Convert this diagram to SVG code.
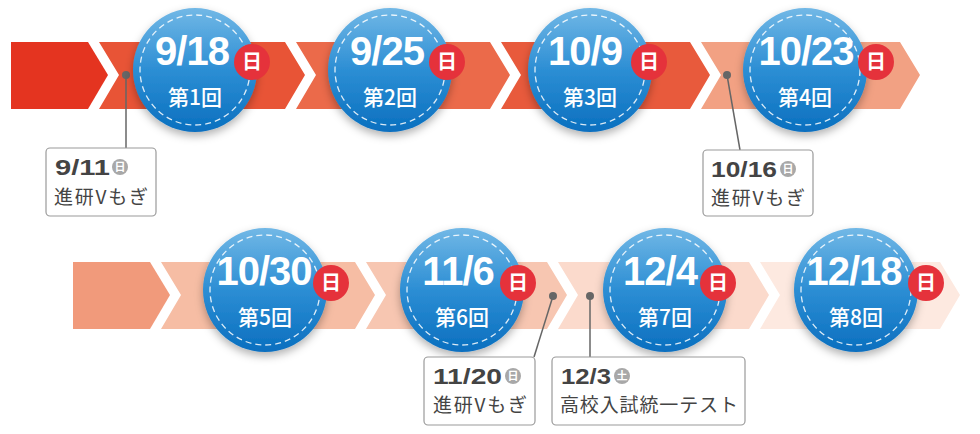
<svg xmlns="http://www.w3.org/2000/svg" width="980" height="434" viewBox="0 0 980 434">
<defs>
<linearGradient id="bg" x1="0" y1="0" x2="0" y2="1"><stop offset="0" stop-color="#72b8e6"/><stop offset="0.5" stop-color="#2c8ed4"/><stop offset="1" stop-color="#0a6fbf"/></linearGradient>
<filter id="sh" x="-20%" y="-20%" width="140%" height="150%"><feDropShadow dx="0" dy="4" stdDeviation="4" flood-color="#000" flood-opacity="0.3"/></filter>
<style>
.ring{fill:url(#bg);filter:url(#sh)}
.dash{fill:none;stroke:#fff;stroke-width:1.3;stroke-dasharray:6 4;opacity:.85}
.dt{font-family:"Liberation Sans",Arial,sans-serif;font-weight:bold;font-size:40px;fill:#fff;text-anchor:middle;letter-spacing:-1px}
.kai{font-family:"Noto Sans CJK JP",sans-serif;font-size:21px;font-weight:500;fill:#fff;text-anchor:middle}
.badge{fill:#e5323b}
.bt{font-family:"Noto Sans CJK JP",sans-serif;font-weight:bold;font-size:20px;fill:#fff;text-anchor:middle}
.box{fill:#fff;stroke:#9a9a9a;stroke-width:1.2}
.cd{font-family:"Liberation Sans",Arial,sans-serif;font-weight:bold;font-size:22px;fill:#444}
.ct{font-family:"Noto Sans CJK JP",sans-serif;font-size:19px;fill:#444}
.gb{fill:#a8a8a8}
.gt{font-family:"Noto Sans CJK JP",sans-serif;font-weight:bold;font-size:11px;fill:#fff;text-anchor:middle}
.ln{stroke:#666;stroke-width:1.5;fill:none}
.dot{fill:#666}
</style>
</defs>
<g id="band1">
<polygon points="11,42 88,42 108,75 88,109 11,109" fill="#e43420"/>
<polygon points="99,42 285,42 305,75 285,109 99,109 119,75" fill="#e85436"/>
<polygon points="296,42 490,42 510,75 490,109 296,109 316,75" fill="#eb6a4a"/>
<polygon points="501,42 690,42 710,75 690,109 501,109 521,75" fill="#e85a3c"/>
<polygon points="701,42 900,42 920,75 900,109 701,109 721,75" fill="#f2a183"/>
</g>
<g id="band2">
<polygon points="73,262 150,262 170,295 150,329 73,329" fill="#f19a7b"/>
<polygon points="161,262 355,262 375,295 355,329 161,329 181,295" fill="#f6bda4"/>
<polygon points="366,262 547,262 567,295 547,329 366,329 386,295" fill="#f7c6b1"/>
<polygon points="558,262 749,262 769,295 749,329 558,329 578,295" fill="#fbdacc"/>
<polygon points="760,262 940,262 960,295 940,329 760,329 780,295" fill="#fde9e0"/>
</g>
<g id="connectors">
<circle class="dot" cx="126" cy="75" r="4"/><line class="ln" x1="126" y1="75" x2="126" y2="148"/>
<circle class="dot" cx="727" cy="75" r="4"/><line class="ln" x1="727" y1="75" x2="740" y2="150"/>
<circle class="dot" cx="553" cy="296" r="4"/><line class="ln" x1="553" y1="296" x2="534" y2="357"/>
<circle class="dot" cx="590" cy="296" r="4"/><line class="ln" x1="590" y1="296" x2="590" y2="357"/>
</g>
<g id="n1"><circle class="ring" cx="195" cy="70" r="62"/><circle class="dash" cx="195" cy="70" r="55"/><text class="dt" x="192" y="65">9/18</text><text class="kai" x="195" y="105">第1回</text><circle class="badge" cx="252" cy="62" r="18"/><text class="bt" x="252" y="69">日</text></g>
<g id="n2"><circle class="ring" cx="390" cy="70" r="62"/><circle class="dash" cx="390" cy="70" r="55"/><text class="dt" x="387" y="65">9/25</text><text class="kai" x="390" y="105">第2回</text><circle class="badge" cx="447" cy="62" r="18"/><text class="bt" x="447" y="69">日</text></g>
<g id="n3"><circle class="ring" cx="590" cy="70" r="62"/><circle class="dash" cx="590" cy="70" r="55"/><text class="dt" x="585" y="65">10/9</text><text class="kai" x="590" y="105">第3回</text><circle class="badge" cx="649" cy="62" r="18"/><text class="bt" x="649" y="69">日</text></g>
<g id="n4"><circle class="ring" cx="805" cy="70" r="62"/><circle class="dash" cx="805" cy="70" r="55"/><text class="dt" x="806" y="65">10/23</text><text class="kai" x="805" y="105">第4回</text><circle class="badge" cx="876" cy="62" r="18"/><text class="bt" x="876" y="69">日</text></g>
<g id="n5"><circle class="ring" cx="265" cy="290" r="62"/><circle class="dash" cx="265" cy="290" r="55"/><text class="dt" x="264" y="285">10/30</text><text class="kai" x="265" y="325">第5回</text><circle class="badge" cx="331" cy="283" r="18"/><text class="bt" x="331" y="290">日</text></g>
<g id="n6"><circle class="ring" cx="462" cy="290" r="62"/><circle class="dash" cx="462" cy="290" r="55"/><text class="dt" x="458" y="285">11/6</text><text class="kai" x="462" y="325">第6回</text><circle class="badge" cx="518" cy="283" r="18"/><text class="bt" x="518" y="290">日</text></g>
<g id="n7"><circle class="ring" cx="665" cy="290" r="62"/><circle class="dash" cx="665" cy="290" r="55"/><text class="dt" x="660" y="285">12/4</text><text class="kai" x="665" y="325">第7回</text><circle class="badge" cx="718" cy="283" r="18"/><text class="bt" x="718" y="290">日</text></g>
<g id="n8"><circle class="ring" cx="856" cy="290" r="62"/><circle class="dash" cx="856" cy="290" r="55"/><text class="dt" x="854" y="285">12/18</text><text class="kai" x="856" y="325">第8回</text><circle class="badge" cx="926" cy="283" r="18"/><text class="bt" x="926" y="290">日</text></g>
<g id="c1"><rect class="box" x="46" y="148" width="110" height="68" rx="4"/><text class="cd" x="55" y="175" textLength="55" lengthAdjust="spacingAndGlyphs">9/11</text><circle class="gb" cx="120" cy="167" r="8"/><text class="gt" x="120" y="171">日</text><text class="ct" x="54" y="204" textLength="94">進研Vもぎ</text></g>
<g id="c2"><rect class="box" x="703" y="150" width="110" height="66" rx="4"/><text class="cd" x="711" y="177" textLength="66" lengthAdjust="spacingAndGlyphs">10/16</text><circle class="gb" cx="788" cy="169" r="8"/><text class="gt" x="788" y="173">日</text><text class="ct" x="711" y="205" textLength="94">進研Vもぎ</text></g>
<g id="c3"><rect class="box" x="424" y="357" width="111" height="68" rx="4"/><text class="cd" x="433" y="384" textLength="69" lengthAdjust="spacingAndGlyphs">11/20</text><circle class="gb" cx="513" cy="376" r="8"/><text class="gt" x="513" y="380">日</text><text class="ct" x="433" y="412" textLength="94">進研Vもぎ</text></g>
<g id="c4"><rect class="box" x="552" y="357" width="193" height="68" rx="4"/><text class="cd" x="561" y="384" textLength="50" lengthAdjust="spacingAndGlyphs">12/3</text><circle class="gb" cx="622" cy="376" r="8"/><text class="gt" x="622" y="380">土</text><text class="ct" x="560" y="412" textLength="178">高校入試統一テスト</text></g>
</svg>
